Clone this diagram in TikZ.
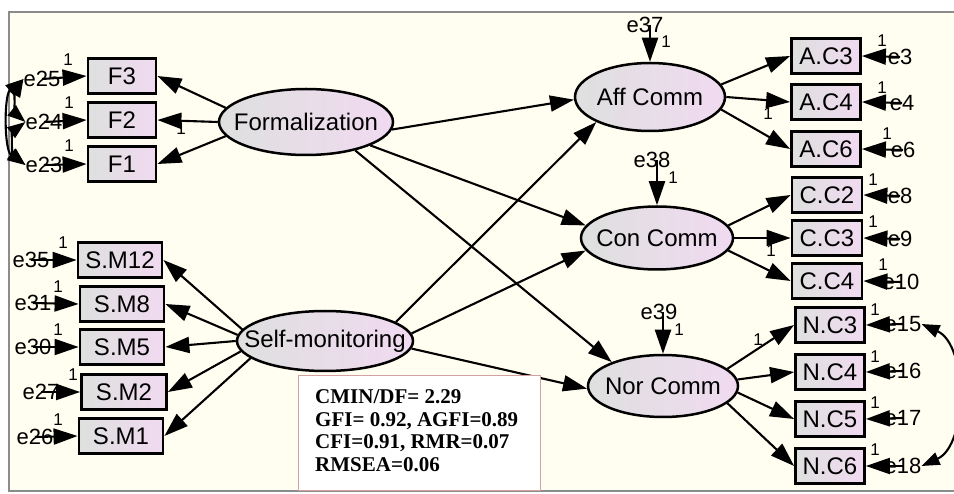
\documentclass[tikz,border=0pt]{standalone}
\usepackage{fontspec}
\setmainfont{Liberation Sans}
\newfontfamily\tnr{Liberation Serif}
\usetikzlibrary{arrows.meta,shapes.geometric}
\definecolor{bgc}{RGB}{255,254,240}
\definecolor{shl}{RGB}{222,224,222}
\definecolor{shr}{RGB}{241,218,241}
\definecolor{framec}{RGB}{140,140,140}
\definecolor{fitc}{RGB}{212,160,160}
\begin{document}
\begin{tikzpicture}[x=1pt,y=-1pt,
 obs/.style={rectangle,draw,line width=2.8pt,left color=shl,right color=shr,minimum height=35pt,inner sep=0pt,font=\fontsize{24}{26}\selectfont},
 lat/.style={ellipse,draw,line width=2.5pt,left color=shl,right color=shr,inner sep=0pt,font=\fontsize{24}{26}\selectfont},
 elab/.style={font=\fontsize{22}{24}\selectfont,inner sep=0pt},
 one/.style={font=\fontsize{17}{18}\selectfont,inner sep=0pt},
 fitline/.style={anchor=base west,inner sep=0pt,font=\tnr\bfseries\fontsize{21}{22}\selectfont},
 arr/.style={line width=2.1pt,-{Triangle[length=24pt,width=16pt]}},
 cov/.style={line width=2.1pt,{Triangle[length=18pt,width=13pt]}-{Triangle[length=18pt,width=13pt]}},
]
\useasboundingbox (0,0) rectangle (954,494);
\fill[white] (0,0) rectangle (954,494);
\fill[bgc] (9,12) rectangle (954,491);
\draw[framec,line width=1.5pt] (954,12) -- (9,12) -- (9,491) -- (954,491);

% latent variables
\node[lat,minimum width=174pt,minimum height=66pt] (form) at (306,122) {\makebox[0pt]{Formalization}};
\node[lat,minimum width=176pt,minimum height=60pt] (sm) at (325,341) {\makebox[0pt]{Self-monitoring}};
\node[lat,minimum width=150pt,minimum height=68pt] (aff) at (650,97) {\makebox[0pt]{Aff Comm}};
\node[lat,minimum width=152pt,minimum height=63pt] (con) at (657,238) {\makebox[0pt]{Con Comm}};
\node[lat,minimum width=150pt,minimum height=62pt] (nor) at (663,386) {\makebox[0pt]{Nor Comm}};

% observed, left
\node[obs,minimum width=68pt] (F3) at (122,76) {F3};
\node[obs,minimum width=68pt] (F2) at (122,120) {F2};
\node[obs,minimum width=68pt] (F1) at (122,164) {F1};
\node[obs,minimum width=84pt] (SM12) at (120,260) {S.M12};
\node[obs,minimum width=84pt] (SM8) at (122,304) {S.M8};
\node[obs,minimum width=84pt] (SM5) at (122,347) {S.M5};
\node[obs,minimum width=85pt] (SM2) at (124,392) {S.M2};
\node[obs,minimum width=84pt] (SM1) at (121,436) {S.M1};

% observed, right
\node[obs,minimum width=69pt] (AC3) at (826,56) {A.C3};
\node[obs,minimum width=69pt] (AC4) at (826,102) {A.C4};
\node[obs,minimum width=69pt] (AC6) at (826,149) {A.C6};
\node[obs,minimum width=70pt] (CC2) at (827,195) {C.C2};
\node[obs,minimum width=70pt] (CC3) at (827,238) {C.C3};
\node[obs,minimum width=70pt] (CC4) at (827,281) {C.C4};
\node[obs,minimum width=69pt] (NC3) at (830,325) {N.C3};
\node[obs,minimum width=69pt] (NC4) at (830,372) {N.C4};
\node[obs,minimum width=69pt] (NC5) at (830,419) {N.C5};
\node[obs,minimum width=69pt] (NC6) at (830,466) {N.C6};

% error labels
\node[elab] (e25) at (42,79) {e25};
\node[elab] (e24) at (44,122) {e24};
\node[elab] (e23) at (44,165) {e23};
\node[elab] (e35) at (31,260) {e35};
\node[elab] (e31) at (33,303) {e31};
\node[elab] (e30) at (33,347) {e30};
\node[elab] (e27) at (41,392) {e27};
\node[elab] (e26) at (35,437) {e26};
\node[elab] (e3) at (900,57) {e3};
\node[elab] (e4) at (902,103) {e4};
\node[elab] (e6) at (903,150) {e6};
\node[elab] (e8) at (900,196) {e8};
\node[elab] (e9) at (900,239) {e9};
\node[elab] (e10) at (901,282) {e10};
\node[elab] (e15) at (903,324) {e15};
\node[elab] (e16) at (903,371) {e16};
\node[elab] (e17) at (903,418) {e17};
\node[elab] (e18) at (903,466) {e18};
\node[elab] (e37) at (645,25) {e37};
\node[elab] (e38) at (652,160) {e38};
\node[elab] (e39) at (659,312) {e39};

% regression weights fixed to 1
\node[one] (o25) at (68,60) {1};
\node[one] (o24) at (69,103) {1};
\node[one] (o23) at (69,146) {1};
\node[one] (o35) at (63,243) {1};
\node[one] (o31) at (58,287) {1};
\node[one] (o30) at (58,330) {1};
\node[one] (o27) at (73,375) {1};
\node[one] (o26) at (58,420) {1};
\node[one] (o3) at (882,41) {1};
\node[one] (o4) at (882,88) {1};
\node[one] (o6) at (887,134) {1};
\node[one] (o8) at (873,180) {1};
\node[one] (o9) at (873,222) {1};
\node[one] (o10) at (883,265) {1};
\node[one] (o15) at (875,310) {1};
\node[one] (o16) at (875,357) {1};
\node[one] (o17) at (875,403) {1};
\node[one] (o18) at (875,450) {1};
\node[one] (o37) at (666,42) {1};
\node[one] (o38) at (673,178) {1};
\node[one] (o39) at (679,330) {1};
\node[one] (pF2) at (181,129) {1};
\node[one] (pA4) at (768,114) {1};
\node[one] (pC3) at (771,251) {1};
\node[one] (pN3) at (758,340) {1};

% measurement paths
\draw[arr] (form.170) -- (F3.east);
\draw[arr] (form.180) -- (F2.east);
\draw[arr] (form.190) -- (F1.east);
\draw[arr] (sm.172) -- (SM12.east);
\draw[arr] (sm.176) -- (SM8.east);
\draw[arr] (sm.180) -- (SM5.east);
\draw[arr] (sm.187) -- (SM2.east);
\draw[arr] (sm.193) -- (SM1.east);
\draw[arr] (aff.10) -- (AC3.west);
\draw[arr] (aff.0) -- (AC4.west);
\draw[arr] (aff.-10) -- (AC6.west);
\draw[arr] (con.10) -- (CC2.west);
\draw[arr] (con.0) -- (CC3.west);
\draw[arr] (con.-10) -- (CC4.west);
\draw[arr] (nor.15) -- (NC3.west);
\draw[arr] (nor.5) -- (NC4.west);
\draw[arr] (nor.-5) -- (NC5.west);
\draw[arr] (nor.-15) -- (NC6.west);

% structural paths
\draw[arr] (form.-5) -- (aff.182);
\draw[arr] (form.-20) -- (con.170);
\draw[arr] (form.-30) -- (nor.155);
\draw[arr] (sm.15) -- (aff.205);
\draw[arr] (sm.5) -- (con.190);
\draw[arr] (sm.-5) -- (nor.182);

% error arrows
\foreach \e/\b in {e25/F3,e24/F2,e23/F1,e35/SM12,e31/SM8,e30/SM5,e27/SM2,e26/SM1}
  \draw[arr] (\e.center) -- (\b.west);
\foreach \e/\b in {e3/AC3,e4/AC4,e6/AC6,e8/CC2,e9/CC3,e10/CC4,e15/NC3,e16/NC4,e17/NC5,e18/NC6}
  \draw[arr] (\e.center) -- (\b.east);
\draw[arr] (e37.center -| aff.north) -- (aff.north);
\draw[arr] (e38.center -| con.north) -- (con.north);
\draw[arr] (e39.center -| nor.north) -- (nor.north);

% covariances
\draw[cov] (e25.west) .. controls (4,95) and (4,150) .. (e23.west);
\draw[cov] (e25.west) .. controls (14,95) and (16,114) .. (e24.west);
\draw[cov] (e24.west) .. controls (12,132) and (12,154) .. (e23.west);
\draw[cov] (e15.east) .. controls (968,345) and (968,445) .. (e18.east);

% fit indices
\node[draw=fitc,line width=1pt,fill=white,minimum width=242pt,minimum height=114pt,inner sep=0pt] (fitbox) at (419,433) {};
\node[fitline] (fit1) at (315,404) {CMIN/DF= 2.29};
\node[fitline] (fit2) at (315,426.5) {GFI= 0.92, AGFI=0.89};
\node[fitline] (fit3) at (315,449) {CFI=0.91, RMR=0.07};
\node[fitline] (fit4) at (315,471.5) {RMSEA=0.06};
\end{tikzpicture}
\end{document}
